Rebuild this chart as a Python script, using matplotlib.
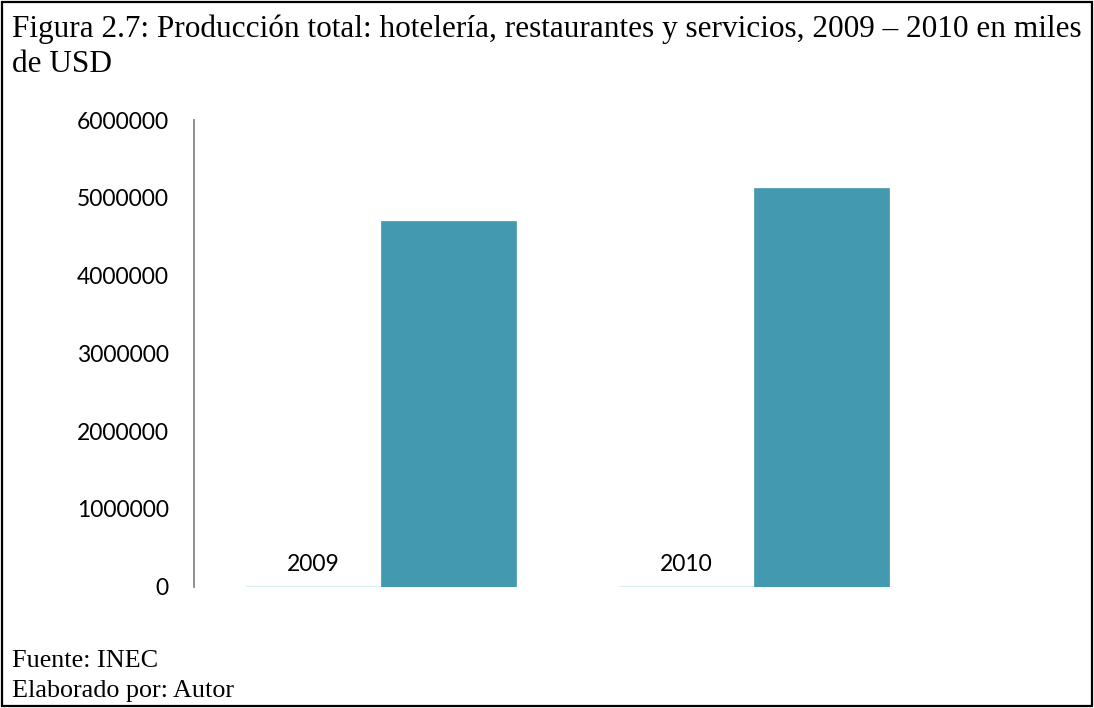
import matplotlib.pyplot as plt
from matplotlib.patches import Rectangle

# Production figures (thousands of USD), plus the year series Excel plotted alongside
years = ["2009", "2010"]
year_values = [2009, 2010]
production = [4705000, 5129000]
y_ticks = [0, 1000000, 2000000, 3000000, 4000000, 5000000, 6000000]

title_lines = ["Figura 2.7: Producción total: hotelería, restaurantes y servicios, 2009 – 2010 en miles",
               "de USD"]
footer_lines = ["Fuente: INEC", "Elaborado por: Autor"]

fig = plt.figure(figsize=(10.94, 7.08), dpi=100)
ax = fig.add_axes([0.1773, 0.1716, 0.6828, 0.6589])

x = list(range(len(years)))
width = 0.3614
light_x = [i - width / 2 for i in x]
dark_x = [i + width / 2 for i in x]

light = ax.bar(light_x, year_values, width, color="#DCEFF4", edgecolor="#DCEFF4", linewidth=1)
ax.bar(dark_x, production, width, color="#4399B0", edgecolor="#4399B0", linewidth=0.5)
ax.bar_label(light, labels=years, padding=8, fontsize=16.5, family="Lato", color="black")

ax.set_xlim(-0.5, 1.5)
ax.set_ylim(0, 6000000)
ax.set_yticks(y_ticks)
ax.set_yticklabels([str(v) for v in y_ticks], family="Lato", fontsize=16.5)
ax.tick_params(axis="y", length=0, pad=18)
ax.set_xticks([])
for side in ["top", "right", "bottom"]:
    ax.spines[side].set_visible(False)
ax.spines["left"].set_color("#868686")
ax.spines["left"].set_linewidth(1.3)

# Caption above and source notes below, baseline-aligned
left = 12 / 1094
fig.text(left, 1 - 36.5 / 708, title_lines[0], family="Liberation Serif", fontsize=22.5, va="baseline")
fig.text(left, 1 - 71.5 / 708, title_lines[1], family="Liberation Serif", fontsize=22.5, va="baseline")
fig.text(left, 1 - 667 / 708, footer_lines[0], family="Liberation Serif", fontsize=18.8, va="baseline")
fig.text(left, 1 - 697 / 708, footer_lines[1], family="Liberation Serif", fontsize=18.8, va="baseline")

# Frame around the whole figure
fig.patches.append(Rectangle((0.002, 0.003), 0.996, 0.994, transform=fig.transFigure,
                             fill=False, edgecolor="black", linewidth=1.6))

fig.savefig("out.png", dpi=100)
